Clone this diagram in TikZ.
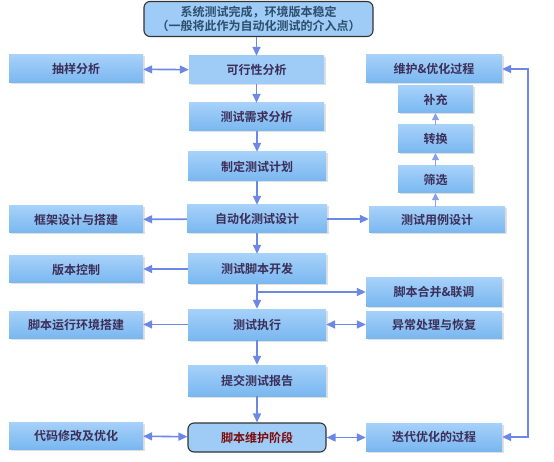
\documentclass[tikz,border=0pt]{standalone}
\usepackage{fontspec}
\setmainfont{Noto Sans CJK SC}[BoldFont={Noto Sans CJK SC Bold}]
\usetikzlibrary{arrows.meta,shadows}
\definecolor{boxtop}{HTML}{A6D1F9}
\definecolor{boxbot}{HTML}{79B7F0}
\definecolor{boxflat}{HTML}{9ECCF6}
\definecolor{txt}{HTML}{3B2E58}
\definecolor{toptxt}{HTML}{2D4E6C}
\definecolor{redtxt}{HTML}{7B0A0A}
\definecolor{arrc}{HTML}{6C87E6}
\tikzset{
  box/.style={rectangle, top color=boxtop, bottom color=boxbot, draw=none, inner sep=0pt,
    text=txt, font=\bfseries\fontsize{12}{14}\selectfont,
    drop shadow={shadow xshift=1.5pt, shadow yshift=-1.5pt, opacity=0.12, fill=black}},
  flatbox/.style={box, top color=boxflat, bottom color=boxflat},
  roundbox/.style={rectangle, rounded corners=6pt, fill=boxflat, draw=black!80, line width=1.1pt,
    inner sep=0pt, font=\bfseries\fontsize{12}{14}\selectfont, align=center},
  arr/.style={draw=arrc, line width=1.6pt, -{Triangle[length=9pt,width=8pt]}},
  darr/.style={draw=arrc, line width=1.6pt, {Triangle[length=9pt,width=8pt]}-{Triangle[length=9pt,width=8pt]}},
  sarr/.style={draw=arrc!80, line width=1pt, -{Triangle[length=7pt,width=7pt]}},
}
\begin{document}
\begin{tikzpicture}[x=1pt,y=-1pt]
\useasboundingbox (0,0) rectangle (554,462);
% top
\node[roundbox, text=toptxt, minimum width=229pt, minimum height=35pt] (top) at (258.5,19)
  {系统测试完成，环境版本稳定\\（一般将此作为自动化测试的介入点）};
% center column
\node[flatbox, minimum width=135pt, minimum height=28pt] (kx) at (256.5,70) {可行性分析};
\node[box, minimum width=135pt, minimum height=28pt] (xq) at (256.5,117) {测试需求分析};
\node[box, minimum width=138pt, minimum height=29pt] (jh) at (257,166.5) {制定测试计划};
\node[box, minimum width=140pt, minimum height=28pt] (zd) at (257,219) {自动化测试设计};
\node[box, minimum width=138pt, minimum height=30pt] (kf) at (257,269) {测试脚本开发};
\node[box, minimum width=138pt, minimum height=31pt] (zx) at (257,324.5) {测试执行};
\node[box, minimum width=138pt, minimum height=31pt] (bg) at (257,380.5) {提交测试报告};
\node[roundbox, text=redtxt, minimum width=138pt, minimum height=29pt] (wh) at (257,437.5) {脚本维护阶段};
% left column
\node[box, minimum width=134pt, minimum height=28pt] (cy) at (76,69) {抽样分析};
\node[box, minimum width=134pt, minimum height=27pt] (kj) at (76,219.5) {框架设计与搭建};
\node[box, minimum width=134pt, minimum height=27pt] (bb) at (76,269.5) {版本控制};
\node[box, minimum width=134pt, minimum height=27pt] (yx) at (76,324.5) {脚本运行环境搭建};
\node[box, minimum width=134pt, minimum height=27pt] (dm) at (76,435.5) {代码修改及优化};
% right column
\node[box, minimum width=136pt, minimum height=28pt] (wy) at (434,69) {维护\&优化过程};
\node[box, minimum width=75pt, minimum height=27pt] (bc) at (435.5,99.5) {补充};
\node[box, minimum width=75pt, minimum height=28pt] (zh) at (435.5,139) {转换};
\node[box, minimum width=75pt, minimum height=27pt] (sx) at (435.5,179.5) {筛选};
\node[box, minimum width=136pt, minimum height=26pt] (yl) at (437,220) {测试用例设计};
\node[box, minimum width=136pt, minimum height=28pt] (hb) at (434,292) {脚本合并\&联调};
\node[box, minimum width=136pt, minimum height=27pt] (yc) at (434,324.5) {异常处理与恢复};
\node[box, minimum width=136pt, minimum height=28pt] (dd) at (434,437) {迭代优化的过程};
\coordinate (rt) at (528,69);
% main flow
\draw[arr] (top.south -| kx.north) -- (kx.north);
\draw[arr] (kx) -- (xq);
\draw[arr] (xq.south -| jh.north) -- (jh.north);
\draw[arr] (jh) -- (zd);
\draw[arr] (zd) -- (kf);
\draw[arr] (kf) -- (zx);
\draw[arr] (zx) -- (bg);
\draw[arr] (bg) -- (wh);
% side links
\draw[darr] (cy) -- (kx);
\draw[arr] (zd) -- (kj);
\draw[arr] (zd.east) -- (zd.east -| yl.west);
\draw[arr] (kf.west) -- (kf.west -| bb.east);
\draw[arr] (kf.south |- hb.west) -- (hb.west);
\draw[arr] (zx) -- (yx);
\draw[darr] (zx) -- (yc);
\draw[darr] (dm) -- (wh);
\draw[darr] (wh.east) -- (wh.east -| dd.west);
% right chain
\draw[sarr] (yl.north -| sx.south) -- (sx.south);
\draw[sarr] (sx) -- (zh);
\draw[sarr] (zh) -- (bc);
\draw[darr] (wy.east) -- (rt) |- (dd.east);
\end{tikzpicture}
\end{document}
